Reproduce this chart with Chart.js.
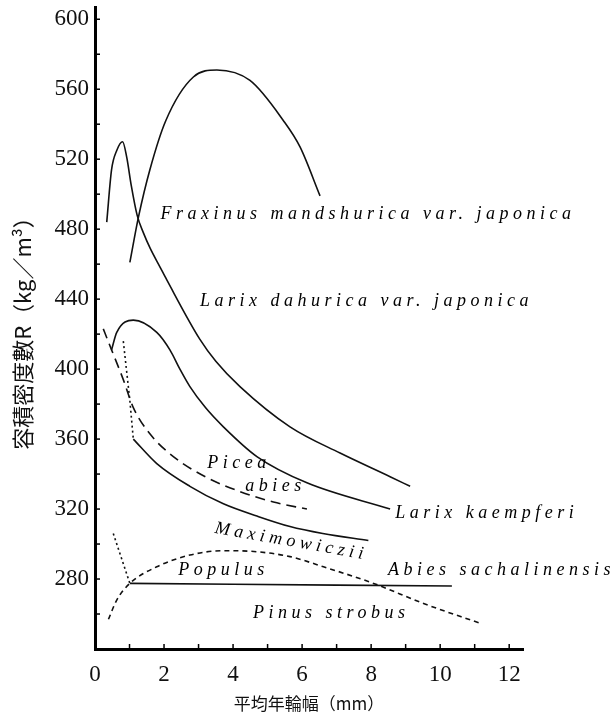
<!DOCTYPE html>
<html>
<head>
<meta charset="utf-8">
<script src="https://cdn.jsdelivr.net/npm/chart.js@4"></script>
<style>
  body { margin: 0; background: #fff; }
  #wrap { width: 614px; height: 718px; position: relative; }
</style>
</head>
<body>
<div id="wrap"><canvas id="densityChart"></canvas></div>
<script>
// values (x = mean ring width mm, y = density kg/m3)
const fraxinusX = [1.01, 1.26, 1.59, 2.05, 2.85, 3.53, 4.49, 5.46, 5.94, 6.52];
const fraxinusY = [461, 487, 514, 542, 567, 571, 565, 542, 527, 499];

const dahuricaX = [0.34, 0.48, 0.63, 0.80, 0.92, 1.05, 1.22, 1.4, 1.6, 1.88, 2.08, 3.04, 3.5, 4.2, 5.65, 7.1, 8.55, 9.13];
const dahuricaY = [484, 514, 525, 530, 521, 505, 488, 478, 469, 458.5, 451, 417, 404.5, 390, 367, 352, 338.5, 333];

const kaempferiX = [0.48, 0.63, 1.11, 1.79, 2.17, 2.46, 2.75, 3.2, 3.72, 4.69, 6.14, 8.55];
const kaempferiY = [411, 421, 428, 421, 411, 400, 390, 378, 367, 350, 335, 320];

const piceaX = [0.24, 0.48, 0.82, 1.11, 1.59, 2.27, 3.24, 4.2, 5.17, 6.14];
const piceaY = [423, 411, 394, 378, 363, 350, 338, 330, 324, 320];

const maxDotX = [0.82, 1.01, 1.11];
const maxDotY = [416, 382, 360];
const maxX = [1.11, 1.79, 2.75, 3.72, 4.69, 5.65, 6.6, 7.92];
const maxY = [360, 346, 333, 323, 316, 310, 306, 302];

const abiesDotX = [0.53, 1.01];
const abiesDotY = [306, 277.5];
const abiesX = [1.01, 4, 7, 10.34];
const abiesY = [277.5, 277, 276.5, 276];

const strobusX = [0.39, 0.63, 1.01, 1.79, 2.75, 3.72, 4.69, 5.65, 6.62, 8.07, 9.52, 11.16];
const strobusY = [257, 268, 277.5, 287, 293.7, 296.2, 295.6, 292.8, 287, 277.5, 266, 254.7];

const yTickLabels = [280, 320, 360, 400, 440, 480, 520, 560, 600];
const xTickLabels = [0, 2, 4, 6, 8, 10, 12];

// species names and where they sit (data units)
const labelText = ['Fraxinus mandshurica var. japonica', 'Larix dahurica var. japonica', 'Picea', 'abies',
  'Larix kaempferi', 'Maximowiczii', 'Abies sachalinensis', 'Populus', 'Pinus strobus'];
const labelX = [1.90, 3.04, 3.25, 4.35, 8.70, 3.48, 8.49, 2.41, 4.58];
const labelY = [488.6, 438.9, 346.3, 333.1, 317.7, 309.1, 285.1, 285.1, 260.6];
const labelAngle = [0, 0, 0, 0, 0, 10, 0, 0, 0];

function pts(xs, ys) {
  return xs.map((x, i) => ({ x: x, y: ys[i] }));
}

function series(xs, ys, dash, smooth) {
  return {
    data: pts(xs, ys),
    borderColor: '#111',
    borderWidth: 1.6,
    borderDash: dash,
    pointRadius: 0,
    cubicInterpolationMode: smooth ? 'monotone' : 'default',
    tension: 0,
    fill: false
  };
}

const innerTicks = {
  id: 'innerTicks',
  afterDraw(chart) {
    const c = chart.ctx, xs = chart.scales.x, ys = chart.scales.y;
    c.save();
    c.strokeStyle = '#000';
    c.lineWidth = 1.5;
    for (let v = 260; v <= 600; v += 20) {
      const py = ys.getPixelForValue(v);
      c.beginPath(); c.moveTo(xs.left, py); c.lineTo(xs.left + 5, py); c.stroke();
    }
    for (let v = 1; v <= 12; v++) {
      const px = xs.getPixelForValue(v);
      c.beginPath(); c.moveTo(px, ys.bottom); c.lineTo(px, ys.bottom - 5); c.stroke();
    }
    c.restore();
  }
};

const speciesLabels = {
  id: 'speciesLabels',
  afterDatasetsDraw(chart) {
    const c = chart.ctx, xs = chart.scales.x, ys = chart.scales.y;
    c.save();
    c.fillStyle = '#000';
    c.font = 'italic 18px "Liberation Serif"';
    c.letterSpacing = '4.5px';
    c.textBaseline = 'middle';
    labelText.forEach((t, i) => {
      c.save();
      c.translate(xs.getPixelForValue(labelX[i]), ys.getPixelForValue(labelY[i]));
      c.rotate(labelAngle[i] * Math.PI / 180);
      c.fillText(t, 0, 0);
      c.restore();
    });
    c.restore();
  }
};

const ctx = document.getElementById('densityChart').getContext('2d');
new Chart(ctx, {
  type: 'line',
  data: {
    datasets: [
      series(fraxinusX, fraxinusY, [], true),
      series(dahuricaX, dahuricaY, [], true),
      series(kaempferiX, kaempferiY, [], true),
      series(piceaX, piceaY, [10, 6], true),
      series(maxDotX, maxDotY, [2, 3], false),
      series(maxX, maxY, [], true),
      series(abiesDotX, abiesDotY, [2, 3], false),
      series(abiesX, abiesY, [], false),
      series(strobusX, strobusY, [5, 4], true)
    ]
  },
  options: {
    responsive: true,
    maintainAspectRatio: false,
    animation: false,
    layout: { padding: { top: 7, right: 91, bottom: 0, left: 0 } },
    plugins: {
      legend: { display: false },
      tooltip: { enabled: false }
    },
    scales: {
      x: {
        type: 'linear',
        min: 0,
        max: 12.4,
        afterBuildTicks: (s) => { s.ticks = xTickLabels.map(v => ({ value: v })); },
        afterFit: (s) => { s.height = 69; s.paddingLeft = 0; s.paddingRight = 0; },
        grid: { display: false, drawTicks: false },
        border: { display: true, width: 3, color: '#000' },
        ticks: {
          autoSkip: false,
          maxRotation: 0,
          padding: 12,
          color: '#111',
          font: { family: '"Liberation Serif"', size: 23 },
          callback: (v) => String(v)
        },
        title: {
          display: true,
          text: '平均年輪幅（mm）',
          color: '#111',
          font: { family: '"Noto Sans CJK JP"', size: 17 },
          padding: { top: 4, bottom: 4 }
        }
      },
      y: {
        type: 'linear',
        min: 240,
        max: 607,
        afterBuildTicks: (s) => { s.ticks = yTickLabels.map(v => ({ value: v })); },
        afterFit: (s) => { s.width = 95; s.paddingTop = 0; s.paddingBottom = 0; },
        grid: { display: false, drawTicks: false },
        border: { display: true, width: 3, color: '#000' },
        ticks: {
          autoSkip: false,
          padding: 6,
          color: '#111',
          font: { family: '"Liberation Serif"', size: 23 },
          callback: (v) => String(v)
        },
        title: {
          display: true,
          text: '容積密度數R（kg／m³）',
          color: '#111',
          font: { family: '"Noto Sans CJK JP"', size: 22 },
          padding: { top: 9, bottom: 0 }
        }
      }
    }
  },
  plugins: [innerTicks, speciesLabels]
});
</script>
</body>
</html>
